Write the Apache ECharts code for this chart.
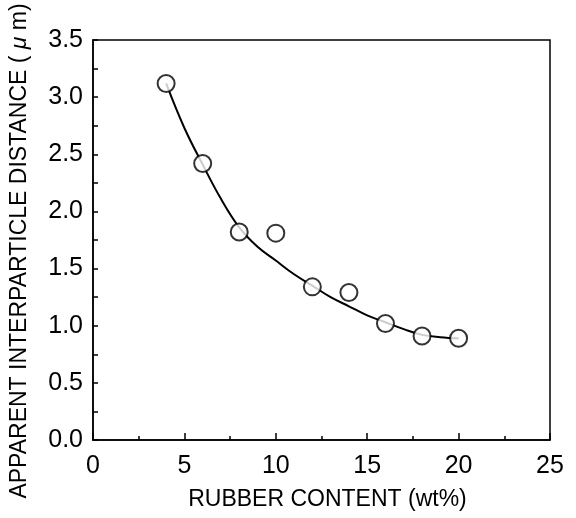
<!DOCTYPE html>
<html>
<head>
<meta charset="utf-8">
<script src="https://cdn.jsdelivr.net/npm/echarts@6/dist/echarts.min.js"></script>
<style>html,body{margin:0;padding:0;background:#fff;}#c{width:576px;height:518px;}</style>
</head>
<body>
<div id="c"></div>
<script>
// Measured data points
const rubberContent = [4, 6, 8, 10, 12, 14, 16, 18, 20];
const distance = [3.12, 2.42, 1.82, 1.81, 1.34, 1.29, 1.02, 0.91, 0.89];
// Fitted curve
const curveX = [4, 5, 6, 7, 8, 9, 10, 11, 12, 13, 14, 15, 16, 17, 18, 19, 20];
const curveY = [3.12, 2.73, 2.41, 2.11, 1.86, 1.69, 1.57, 1.45, 1.35, 1.25, 1.17, 1.09, 1.03, 0.97, 0.92, 0.90, 0.89];
const xTicks = [0, 5, 10, 15, 20, 25];
const yTicks = ['0.0', '0.5', '1.0', '1.5', '2.0', '2.5', '3.0', '3.5'];
const xTitle = 'RUBBER CONTENT (wt%)';
const yTitle = 'APPARENT INTERPARTICLE DISTANCE ( {mu|μ} m)';

const font = '"Liberation Sans", Arial, Helvetica, sans-serif';
const chart = echarts.init(document.getElementById('c'), null, {renderer: 'canvas'});
chart.setOption({
  animation: false,
  backgroundColor: '#fff',
  grid: {left: 91, right: 26, top: 40, bottom: 78, show: true, borderColor: '#000', borderWidth: 1.5, backgroundColor: 'transparent'},
  xAxis: {
    type: 'value', min: 0, max: 25, interval: 5,
    name: xTitle, nameLocation: 'middle', nameGap: 48,
    nameTextStyle: {fontFamily: font, fontSize: 23, color: '#000', padding: [0, 0, 0, 12]},
    axisLine: {show: true, lineStyle: {color: '#000', width: 1.5}},
    axisTick: {show: true, inside: true, length: 7, lineStyle: {color: '#000', width: 1.5}},
    minorTick: {show: true, splitNumber: 2, length: 4, lineStyle: {color: '#000', width: 1.5}},
    splitLine: {show: false},
    axisLabel: {fontFamily: font, fontSize: 25, color: '#000', margin: 14,
      formatter: v => String(xTicks[xTicks.indexOf(v)])}
  },
  yAxis: {
    type: 'value', min: 0, max: 3.5, interval: 0.5,
    name: yTitle, nameLocation: 'middle', nameGap: 62, nameRotate: 90,
    nameTextStyle: {fontFamily: font, fontSize: 23, color: '#000', padding: [0, 22, 0, 0],
      rich: {mu: {fontFamily: font, fontSize: 23, fontStyle: 'italic', color: '#000'}}},
    axisLine: {show: true, lineStyle: {color: '#000', width: 1.5}},
    axisTick: {show: true, inside: true, length: 5, lineStyle: {color: '#000', width: 1.5}},
    minorTick: {show: true, splitNumber: 2, length: 5, lineStyle: {color: '#000', width: 1.5}},
    splitLine: {show: false},
    axisLabel: {fontFamily: font, fontSize: 25, color: '#000', margin: 10,
      formatter: v => yTicks[Math.round(v / 0.5)]}
  },
  series: [
    {
      type: 'line', data: curveX.map((x, i) => [x, curveY[i]]),
      smooth: 0.4, showSymbol: false, symbol: 'none',
      lineStyle: {color: '#000', width: 2}, z: 2
    },
    {
      type: 'scatter', data: rubberContent.map((x, i) => [x, distance[i]]),
      symbol: 'circle', symbolSize: 17,
      itemStyle: {color: '#fff', borderColor: '#000', borderWidth: 2}, z: 3
    }
  ]
});
</script>
</body>
</html>
